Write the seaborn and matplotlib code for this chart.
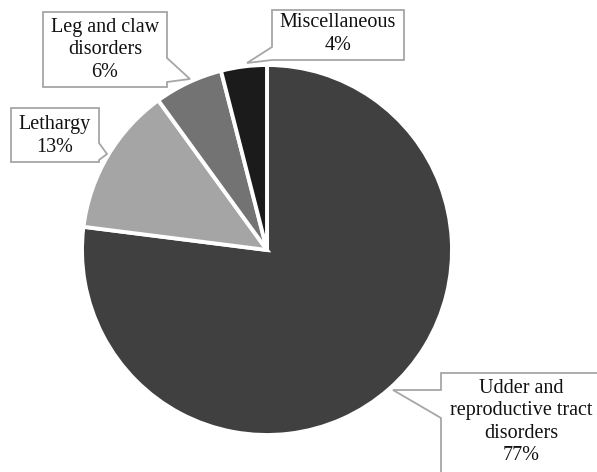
import matplotlib
matplotlib.use("Agg")
import matplotlib.pyplot as plt
import seaborn as sns
from matplotlib.patches import Polygon

# Causes of culling, share of cases (%)
categories = ["Udder and reproductive tract disorders", "Lethargy",
              "Leg and claw disorders", "Miscellaneous"]
shares = [77, 13, 6, 4]
label_text = ["Udder and\nreproductive tract\ndisorders", "Lethargy",
              "Leg and claw\ndisorders", "Miscellaneous"]
colors = ["#404040", "#a5a5a5", "#737373", "#1b1b1b"]

sns.set_theme(style="white")
plt.rcParams["font.family"] = ["Liberation Serif", "DejaVu Serif"]

W, H = 597, 472
fig = plt.figure(figsize=(W / 100, H / 100), dpi=100)
ax = fig.add_axes([0, 0, 1, 1])

ax.pie(shares, colors=colors, startangle=90, counterclock=False,
       center=(267, H - 250), radius=185,
       wedgeprops=dict(edgecolor="white", linewidth=2.8))
ax.set_xlim(0, W)
ax.set_ylim(0, H)
ax.set_aspect("equal")
ax.axis("off")

# callout boxes: (x0, y0, x1, y1) in pixel space (y down), pointer side,
# pointer base span along that side, pointer tip, text centre
callouts = [
    dict(box=(441, 373, 640, 500), side="left", base=(390, 418), tip=(393, 390), center=(521, 422)),
    dict(box=(11, 108, 99, 162), side="right", base=(143, 160), tip=(107, 154), center=(55, 136)),
    dict(box=(43, 12, 167, 87), side="right", base=(58, 82), tip=(190, 79), center=(105, 50)),
    dict(box=(272, 10, 404, 60), side="left", base=(47, 60), tip=(247, 63), center=(338, 34)),
]


def callout_vertices(box, side, base, tip):
    x0, y0, x1, y1 = box
    b0, b1 = base
    pts = [(x0, y0), (x1, y0)]
    if side == "right":
        pts += [(x1, b0), tip, (x1, b1)]
    pts += [(x1, y1), (x0, y1)]
    if side == "left":
        pts += [(x0, b1), tip, (x0, b0)]
    return [(x, H - y) for x, y in pts]


for spec, text, share in zip(callouts, label_text, shares):
    poly = Polygon(callout_vertices(spec["box"], spec["side"], spec["base"], spec["tip"]),
                   closed=True, facecolor="white", edgecolor="#a6a6a6",
                   linewidth=1.3, zorder=3, clip_on=True)
    ax.add_patch(poly)
    cx, cy = spec["center"]
    ax.text(cx, H - cy, f"{text}\n{share}%", ha="center", va="center",
            fontsize=14.5, linespacing=1.25, color="#111111", zorder=4)

fig.savefig("out.png", dpi=100, facecolor="white")
